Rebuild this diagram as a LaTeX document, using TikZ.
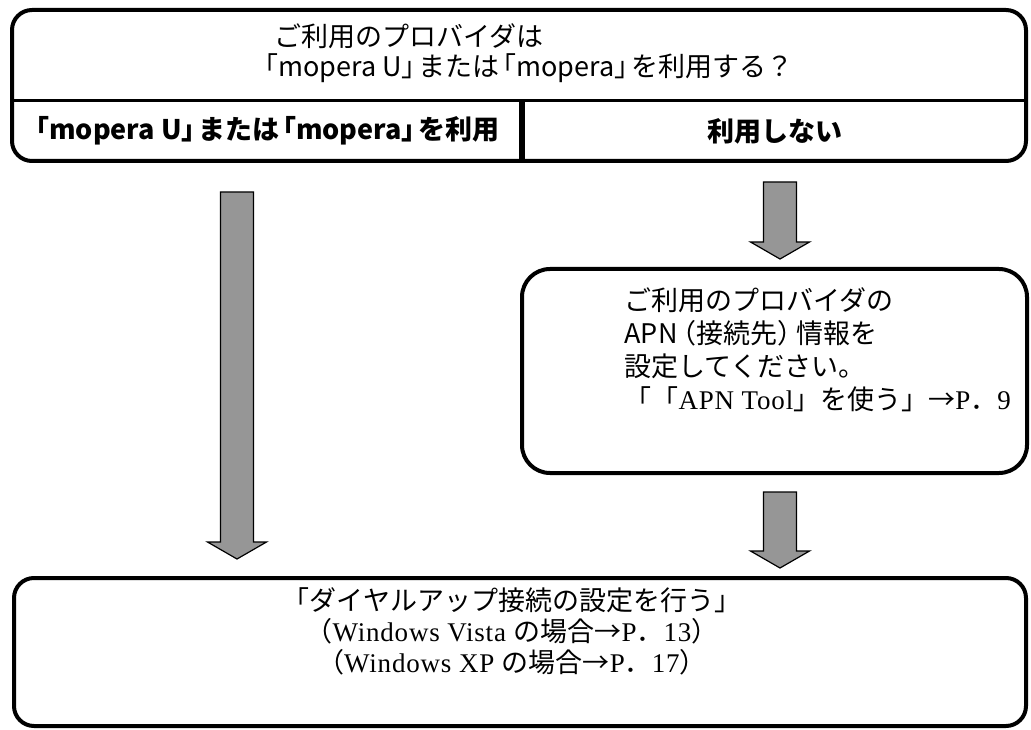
\documentclass[tikz,border=0pt]{standalone}
\usepackage{fontspec}
\setmainfont{Noto Sans CJK JP}
\newfontfamily\mincho{Liberation Serif}[LetterSpace=3]
\usetikzlibrary{calc}
\definecolor{arrowgray}{RGB}{150,150,150}
% narrow brackets, as in a proportional gothic
\newcommand{\lbr}{\kern-.38em「}
\newcommand{\rbr}{」\kern-.38em}
\newcommand{\lpar}{\kern-.3em（}
\newcommand{\rpar}{）\kern-.3em}

\begin{document}
\begin{tikzpicture}[x=1pt, y=-1pt, font=\fontsize{27}{30}\selectfont,
  frame/.style = {draw, line width=4pt, rounded corners=20pt, inner sep=0pt},
  answer/.style = {font=\fontsize{27}{30}\selectfont\bfseries},
  fatarrow/.style = {draw=black, line width=1.2pt, fill=arrowgray,
    to path={let \p1=(\tikztostart), \p2=(\tikztotarget) in
      (\x1-16.5pt,\y1) -- (\x1-16.5pt,\y2+17pt) -- (\x1-29.5pt,\y2+17pt) -- (\x2,\y2)
      -- (\x1+29.5pt,\y2+17pt) -- (\x1+16.5pt,\y2+17pt) -- (\x1+16.5pt,\y1) -- cycle}}]

\useasboundingbox (0,0) rectangle (1031,730);

% question box
\node[frame, minimum width=1014pt, minimum height=151pt] (topbox) at (519,85.5) {};
\draw[line width=3pt] (10,101) -- (1028,101);
\draw[line width=6.5pt] (522,101) -- (522,162);
\node[anchor=west, align=left] (ask) at (258,53) {\hspace*{13pt}ご利用のプロバイダは\\\lbr mopera U\rbr または\lbr mopera\rbr を利用する？};
\node[answer] (use) at (266,131) {\lbr mopera U\rbr または\lbr mopera\rbr を利用};
\node[answer] (nouse) at (775,131) {利用しない};

% apn box
\node[frame, rounded corners=28pt, minimum width=505pt, minimum height=204pt] (apnbox) at (774.5,371) {};
\node[anchor=west, align=left, font=\fontsize{27}{33}\selectfont] (apn) at (621,350) {ご利用のプロバイダの\\APN\lpar 接続先\rpar 情報を\\設定してください。\\「「{\mincho APN Tool}」を使う」→{\mincho P}．{\mincho 9}};

% dial-up box
\node[frame, minimum width=1012pt, minimum height=148pt] (dialbox) at (520,652) {};
\node[align=center, font=\fontsize{27}{31}\selectfont] (dial) at (512,631) {「ダイヤルアップ接続の設定を行う」\\（{\mincho Windows Vista }の場合→{\mincho P}．{\mincho 13}）\\（{\mincho Windows XP }の場合→{\mincho P}．{\mincho 17}）};

% arrows
\coordinate (usetop) at (237,192);
\coordinate (usetip) at (237,559);
\coordinate (nousetop) at (780,182);
\coordinate (nousetip) at (780,259);
\coordinate (apntop) at (780,492);
\coordinate (apntip) at (780,568);

\draw[fatarrow] (usetop) to (usetip);
\draw[fatarrow] (nousetop) to (nousetip);
\draw[fatarrow] (apntop) to (apntip);

\end{tikzpicture}
\end{document}
